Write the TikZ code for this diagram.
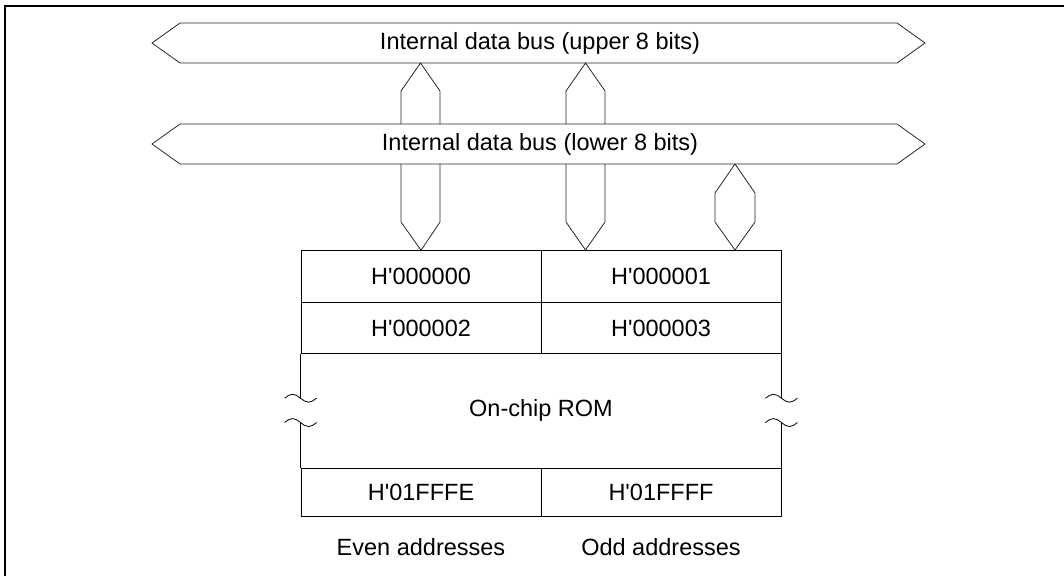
\documentclass[tikz,border=0pt]{standalone}
\usepackage{fontspec}
\setmainfont{Liberation Sans}
\usetikzlibrary{positioning,calc}

\begin{document}
\begin{tikzpicture}[x=1pt,y=-1pt,line join=miter,
every node/.style={font=\fontsize{23.5}{28}\selectfont, inner sep=0pt},
bus/.style={draw=black!85, line width=0.8pt},
cell/.style={draw, line width=0.9pt, minimum width=240pt, minimum height=51.5pt},
lbl/.style={anchor=center}]
\useasboundingbox (0,0) rectangle (1064,576);
% frame
\draw[line width=2pt] (5,576) -- (5,6) -- (1064,6);
% buses
\node[lbl] (ubus) at (540,43) {Internal data bus (upper 8 bits)};
\node[lbl] (lbus) at (540,144) {Internal data bus (lower 8 bits)};
\draw[bus] (180,23) -- (897,23) -- (925,43) -- (897,63) -- (180,63) -- (152,43) -- cycle;
\draw[bus] (180,124) -- (897,124) -- (925,144) -- (897,164) -- (180,164) -- (152,144) -- cycle;
% memory cells
\node[cell] (c0) at (421,276.5) {H\textquotesingle 000000};
\node[cell] (c1) at (661,276.5) {H\textquotesingle 000001};
\node[cell] (c2) at (421,328) {H\textquotesingle 000002};
\node[cell] (c3) at (661,328) {H\textquotesingle 000003};
\node[cell, minimum height=48pt] (c4) at (421,492) {H\textquotesingle 01FFFE};
\node[cell, minimum height=48pt] (c5) at (661,492) {H\textquotesingle 01FFFF};
\node[lbl] (rom) at (541,410) {On-chip ROM};
\node[lbl, below=22pt of c4] (even) {Even addresses};
\node[lbl, below=22pt of c5] (odd) {Odd addresses};
% ROM sides with break marks
\draw[line width=0.9pt] (c2.south west) -- ++(0,44) coordinate (lb1);
\draw[line width=0.9pt] (c4.north west) -- ++(0,-45) coordinate (lb2);
\draw[line width=0.9pt] (c3.south east) -- ++(0,44) coordinate (rb1);
\draw[line width=0.9pt] (c5.north east) -- ++(0,-45) coordinate (rb2);
\foreach \p in {lb1,lb2,rb1,rb2}
  \draw[line width=0.8pt] ($(\p)+(-16,0)$) sin ++(8,-4) cos ++(8,4) sin ++(8,4) cos ++(8,-4);
% connectors between the buses
\draw[bus] (401,124) -- (401,91) -- (420.5,63) -- (440,91) -- (440,124);
\draw[bus] (566,124) -- (566,91) -- (585.5,63) -- (605,91) -- (605,124);
% connectors down to the ROM
\draw[bus] (401,164) -- (401,222) -- (c0.north) -- (440,222) -- (440,164);
\draw[bus] (566,164) -- (566,222) -- (585.5,250) -- (605,222) -- (605,164);
\draw[bus] (735,164) -- (755,193) -- (755,222) -- (735,250) -- (715,222) -- (715,193) -- cycle;
\end{tikzpicture}
\end{document}
